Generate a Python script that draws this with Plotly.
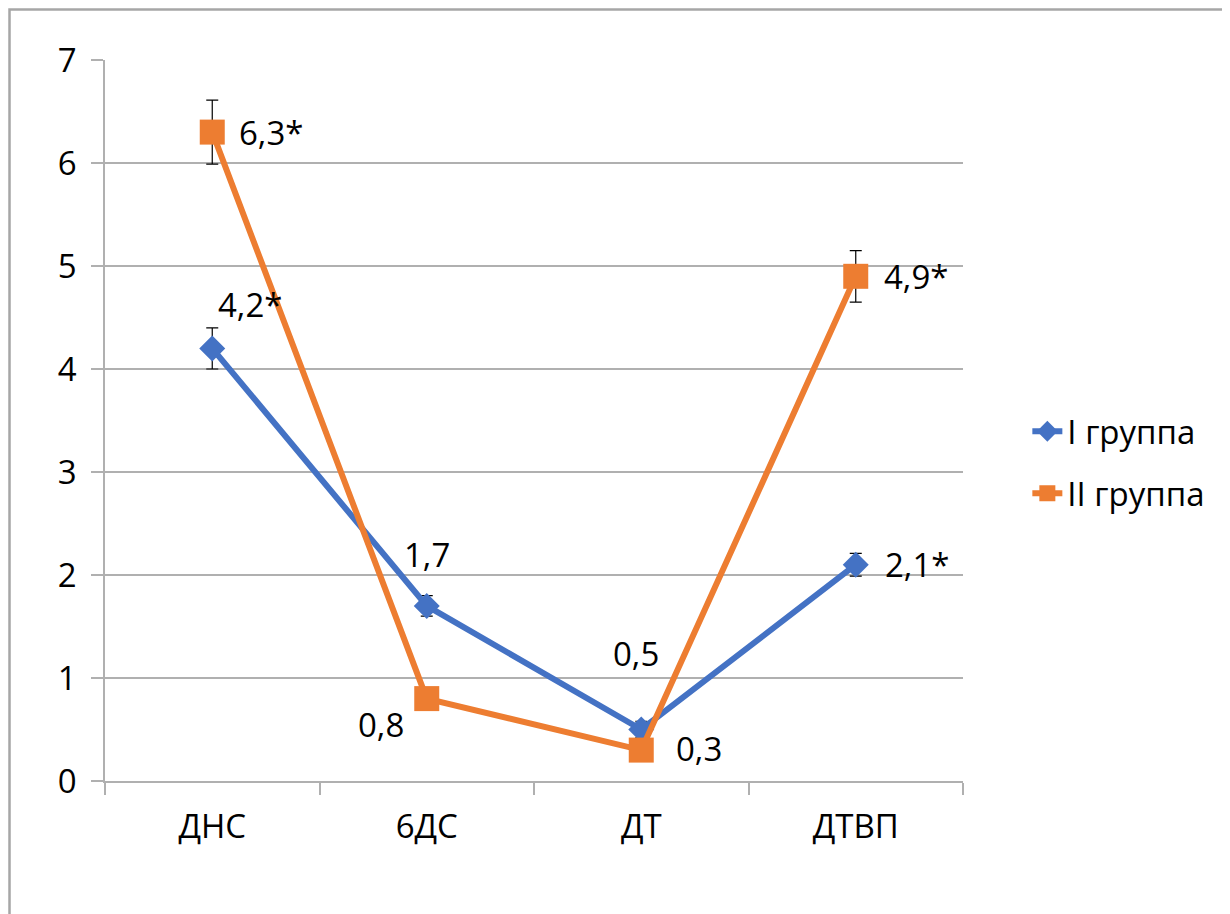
import plotly.graph_objects as go

categories = ["ДНС", "6ДС", "ДТ", "ДТВП"]
group1_name = "I группа"
group2_name = "II группа"
group1_values = [4.2, 1.7, 0.5, 2.1]
group2_values = [6.3, 0.8, 0.3, 4.9]
group1_err = [0.2, 0.1, 0.08, 0.11]
group2_err = [0.31, 0.05, 0.05, 0.25]
group1_labels = ["4,2*", "1,7", "0,5", "2,1*"]
group2_labels = ["6,3*", "0,8", "0,3", "4,9*"]
y_ticks = [0, 1, 2, 3, 4, 5, 6, 7]

BLUE = "#4472C4"
ORANGE = "#ED7D31"
FONT = "Open Sans"
FS = 33

fig = go.Figure()
fig.add_trace(go.Scatter(
    x=categories, y=group1_values, name=group1_name, mode="lines+markers",
    line=dict(color=BLUE, width=6),
    marker=dict(symbol="diamond", size=20, color=BLUE),
    error_y=dict(type="data", array=group1_err, visible=True, color="black", thickness=1.2, width=6),
    legendgroup="g1",
))
fig.add_trace(go.Scatter(
    x=categories, y=group2_values, name=group2_name, mode="lines+markers",
    line=dict(color=ORANGE, width=6),
    marker=dict(symbol="square", size=25, color=ORANGE),
    error_y=dict(type="data", array=group2_err, visible=True, color="black", thickness=1.2, width=6),
    legendgroup="g2",
))

# label offsets (styling only): (xanchor, xshift, yshift)
g1_pos = [("center", 38, 44), ("center", 0, 51), ("center", -5, 76), ("left", 27, 0)]
g2_pos = [("left", 25, 0), ("center", -46, -26), ("left", 33, 2), ("left", 26, 0)]

annotations = []
for cat, v, lab, (xa, xs, ys) in zip(categories, group1_values, group1_labels, g1_pos):
    annotations.append(dict(x=cat, y=v, text=lab, showarrow=False, xanchor=xa, yanchor="middle",
                            xshift=xs, yshift=ys, font=dict(family=FONT, size=FS, color="black")))
for cat, v, lab, (xa, xs, ys) in zip(categories, group2_values, group2_labels, g2_pos):
    annotations.append(dict(x=cat, y=v, text=lab, showarrow=False, xanchor=xa, yanchor="middle",
                            xshift=xs, yshift=ys, font=dict(family=FONT, size=FS, color="black")))

fig.update_layout(
    width=1222, height=906,
    margin=dict(l=97, r=267, t=52, b=133),
    paper_bgcolor="white", plot_bgcolor="white",
    font=dict(family=FONT, size=FS, color="black"),
    showlegend=True,
    legend=dict(x=1.075, y=0.442, xanchor="left", yanchor="middle",
                font=dict(family=FONT, size=FS, color="black"),
                tracegroupgap=16, bgcolor="rgba(0,0,0,0)"),
    annotations=annotations,
    shapes=[dict(type="rect", xref="paper", yref="paper",
                 x0=-0.1113, x1=1.3077, y0=-0.25, y1=1.070,
                 line=dict(color="#a6a6a6", width=2.5), fillcolor="rgba(0,0,0,0)", layer="below")],
)
fig.update_xaxes(
    type="category", range=[-0.5, 3.5],
    showgrid=False, showline=True, linecolor="#b0b0b0", linewidth=1.5,
    ticks="outside", tickson="boundaries", ticklen=12, tickcolor="#b0b0b0", tickwidth=1.5,
    tickfont=dict(family=FONT, size=FS, color="black"),
    ticklabelstandoff=16,
)
fig.update_yaxes(
    range=[0, 7], tickvals=y_ticks, ticktext=[str(t) for t in y_ticks],
    showgrid=True, gridcolor="#b0b0b0", gridwidth=1.5,
    showline=True, linecolor="#b0b0b0", linewidth=1.5,
    ticks="outside", ticklen=12, tickcolor="#b0b0b0", tickwidth=1.5,
    zeroline=False,
    tickfont=dict(family=FONT, size=FS, color="black"),
    ticklabelstandoff=8,
)

fig.write_html("out.html")
